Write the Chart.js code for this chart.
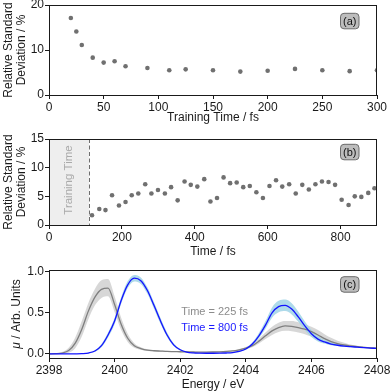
<!DOCTYPE html>
<html>
<head>
<meta charset="utf-8">
<script src="https://cdn.jsdelivr.net/npm/chart.js@4.4.1/dist/chart.umd.min.js"></script>
<style>
  html, body { margin: 0; padding: 0; background: #fff; }
  #wrap { position: relative; width: 392px; height: 392px; overflow: hidden; }
  canvas { position: absolute; left: 0; }
</style>
</head>
<body>
<div id="wrap">
  <canvas id="chartA" width="392" height="143" style="top:-15px"></canvas>
  <canvas id="chartB" width="392" height="141" style="top:120px"></canvas>
  <canvas id="chartC" width="392" height="142" style="top:250px"></canvas>
</div>
<script>
// panel (a): error vs length of training window
const timesA = [20, 25, 30, 40, 50, 60, 70, 90, 110, 125, 150, 175, 200, 225, 250, 275, 300];
const rsdA = [17.1, 14.1, 11.1, 8.3, 7.2, 7.5, 6.4, 6.0, 5.5, 5.7, 5.5, 5.2, 5.4, 5.8, 5.5, 5.3, 5.5];

// panel (b): error over the trajectory
const timesB = [118, 138, 155, 173, 192, 210, 227, 245, 264, 281, 299, 318, 335, 353, 372, 389, 407, 426, 443, 461,
  479, 497, 515, 533, 551, 569, 587, 605, 623, 640, 659, 677, 695, 713, 731, 749, 767, 785, 803, 822,
  839, 857, 876, 893];
const rsdB = [1.7, 2.8, 2.6, 5.2, 3.4, 4.0, 5.2, 5.5, 7.1, 5.5, 6.1, 5.5, 6.6, 4.3, 7.6, 7.0, 6.7, 8.0, 4.1, 4.7,
  8.3, 7.3, 7.4, 6.6, 6.8, 5.7, 4.7, 6.8, 7.8, 6.7, 7.1, 5.5, 7.0, 6.2, 7.1, 7.6, 7.5, 7.0, 4.4, 3.5,
  5.0, 4.9, 5.6, 6.4];
const trainingEnd = 110;
const xTicksB = [0, 200, 400, 600, 800];

// panel (c): spectra
const energy = [2398.0, 2398.2, 2398.4, 2398.6, 2398.8, 2399.0, 2399.2, 2399.4, 2399.6, 2399.8,
  2400.0, 2400.2, 2400.4, 2400.6, 2400.8, 2401.0, 2401.2, 2401.4, 2401.6, 2401.8,
  2402.0, 2402.2, 2402.4, 2402.6, 2402.8, 2403.0, 2403.2, 2403.4, 2403.6, 2403.8,
  2404.0, 2404.2, 2404.4, 2404.6, 2404.8, 2405.0, 2405.2, 2405.4, 2405.6, 2405.8,
  2406.0, 2406.2, 2406.4, 2406.6, 2406.8, 2407.0, 2407.2, 2407.4, 2407.6, 2407.8, 2408.0];
const mu225 = [0.000, 0.002, 0.010, 0.040, 0.130, 0.300, 0.520, 0.690, 0.785, 0.800,
  0.600, 0.360, 0.190, 0.100, 0.065, 0.045, 0.038, 0.034, 0.030, 0.028,
  0.026, 0.024, 0.023, 0.022, 0.022, 0.023, 0.025, 0.029, 0.036, 0.050,
  0.070, 0.100, 0.155, 0.220, 0.280, 0.320, 0.340, 0.335, 0.320, 0.300,
  0.270, 0.230, 0.185, 0.150, 0.125, 0.108, 0.097, 0.088, 0.080, 0.073, 0.067];
const mu225Hi = [0.002, 0.006, 0.022, 0.075, 0.200, 0.400, 0.620, 0.790, 0.895, 0.910,
  0.700, 0.440, 0.245, 0.130, 0.080, 0.055, 0.046, 0.041, 0.036, 0.033,
  0.031, 0.029, 0.028, 0.027, 0.027, 0.028, 0.030, 0.035, 0.044, 0.060,
  0.085, 0.120, 0.185, 0.260, 0.330, 0.380, 0.400, 0.400, 0.385, 0.360,
  0.330, 0.290, 0.240, 0.195, 0.160, 0.135, 0.115, 0.100, 0.090, 0.080, 0.073];
const mu225Lo = [0.000, 0.000, 0.003, 0.015, 0.070, 0.210, 0.420, 0.590, 0.680, 0.700,
  0.510, 0.290, 0.145, 0.075, 0.050, 0.036, 0.031, 0.028, 0.025, 0.023,
  0.021, 0.019, 0.018, 0.017, 0.017, 0.018, 0.020, 0.023, 0.029, 0.040,
  0.057, 0.080, 0.125, 0.180, 0.230, 0.265, 0.280, 0.275, 0.260, 0.240,
  0.210, 0.175, 0.140, 0.115, 0.100, 0.090, 0.083, 0.078, 0.072, 0.067, 0.062];
const mu800 = [0.000, 0.000, 0.000, 0.000, 0.001, 0.003, 0.010, 0.035, 0.100, 0.230,
  0.400, 0.650, 0.840, 0.920, 0.890, 0.770, 0.590, 0.400, 0.230, 0.110,
  0.050, 0.022, 0.012, 0.009, 0.008, 0.008, 0.009, 0.011, 0.016, 0.030,
  0.060, 0.120, 0.220, 0.350, 0.500, 0.575, 0.590, 0.545, 0.450, 0.340,
  0.245, 0.180, 0.145, 0.120, 0.105, 0.095, 0.088, 0.082, 0.076, 0.071, 0.066];
const mu800Hi = [0.000, 0.000, 0.001, 0.001, 0.002, 0.005, 0.015, 0.045, 0.120, 0.260,
  0.440, 0.690, 0.885, 0.960, 0.930, 0.810, 0.630, 0.435, 0.260, 0.130,
  0.060, 0.028, 0.016, 0.012, 0.011, 0.011, 0.012, 0.014, 0.020, 0.037,
  0.072, 0.140, 0.255, 0.400, 0.565, 0.645, 0.660, 0.615, 0.515, 0.395,
  0.290, 0.215, 0.170, 0.140, 0.120, 0.106, 0.097, 0.090, 0.083, 0.077, 0.071];
const mu800Lo = [0.000, 0.000, 0.000, 0.000, 0.000, 0.001, 0.006, 0.026, 0.082, 0.200,
  0.360, 0.610, 0.800, 0.880, 0.850, 0.730, 0.550, 0.365, 0.205, 0.095,
  0.040, 0.017, 0.009, 0.007, 0.006, 0.006, 0.007, 0.008, 0.012, 0.024,
  0.049, 0.100, 0.190, 0.305, 0.440, 0.505, 0.520, 0.480, 0.390, 0.290,
  0.205, 0.150, 0.125, 0.105, 0.095, 0.087, 0.081, 0.076, 0.071, 0.066, 0.062];
const yTicksC = [0, 0.5, 1.0];

const FONT = '"Liberation Sans", Arial, Helvetica, sans-serif';
const INK = '#1a1a1a';
Chart.defaults.font.family = FONT;
Chart.defaults.font.size = 12;
Chart.defaults.color = INK;

// box around the plot area
const framePlugin = {
  id: 'frame',
  afterDraw(chart) {
    const { ctx, chartArea: a } = chart;
    ctx.save();
    ctx.strokeStyle = INK;
    ctx.lineWidth = 1;
    ctx.strokeRect(a.left + 0.5, a.top + 0.5, a.right - a.left - 1, a.bottom - a.top);
    ctx.restore();
  }
};

// the grey "(a)" style tags
const panelLabel = {
  id: 'panelLabel',
  afterDraw(chart, args, opts) {
    if (!opts.text) return;
    const { ctx, chartArea: a } = chart;
    const w = 18.5, h = 15.5;
    const x = a.right - 18 - w, y = a.top + opts.dy;
    ctx.save();
    ctx.beginPath();
    ctx.roundRect(x, y, w, h, 3.5);
    ctx.fillStyle = '#bdbdbd';
    ctx.fill();
    ctx.strokeStyle = '#6b6b6b';
    ctx.lineWidth = 1;
    ctx.stroke();
    ctx.fillStyle = '#111';
    ctx.font = '11px ' + FONT;
    ctx.textAlign = 'center';
    ctx.textBaseline = 'middle';
    ctx.fillText(opts.text, x + w / 2, y + h / 2 + 0.5);
    ctx.restore();
  }
};
Chart.register(framePlugin, panelLabel);

function xAxis(min, max, step, title, height, titlePad) {
  return {
    type: 'linear', min, max,
    ticks: { stepSize: step, padding: 1, maxRotation: 0, autoSkip: false, color: INK, callback: v => String(v) },
    grid: { drawOnChartArea: false, tickLength: 4, tickColor: INK },
    border: { display: false },
    title: { display: true, text: title, color: INK, font: { size: 12 }, padding: { top: 0, bottom: titlePad } },
    afterFit(s) { s.height = height; }
  };
}

function yAxis(min, max, step, title) {
  return {
    min, max,
    ticks: { stepSize: step, padding: 1, color: INK, callback: v => String(v) },
    grid: { drawOnChartArea: false, tickLength: 4, tickColor: INK },
    border: { display: false },
    title: { display: !!title, text: title, color: INK, font: { size: 12, lineHeight: 1.12 }, padding: { top: 1.6, bottom: 0 } },
    afterFit(s) { s.width = 49; }
  };
}

const rsdTitle = ['Relative Standard', 'Deviation / %'];

new Chart(document.getElementById('chartA'), {
  type: 'scatter',
  data: {
    datasets: [{
      data: timesA.map((t, i) => ({ x: t, y: rsdA[i] })),
      pointRadius: 2.3, pointBackgroundColor: '#707070', pointBorderWidth: 0
    }]
  },
  options: {
    responsive: false, animation: false,
    layout: { padding: { top: 20, right: 15, left: 0, bottom: 0 } },
    plugins: { legend: { display: false }, tooltip: { enabled: false }, panelLabel: { text: '(a)', dy: 8.3 } },
    scales: {
      x: xAxis(0, 300, 50, 'Training Time / fs', 33, 2.8),
      y: yAxis(0, 20, 10, rsdTitle)
    }
  }
});

const trainingShade = {
  id: 'trainingShade',
  beforeDatasetsDraw(chart) {
    const { ctx, chartArea: a, scales: { x } } = chart;
    const x0 = x.getPixelForValue(0), x1 = x.getPixelForValue(trainingEnd);
    ctx.save();
    ctx.fillStyle = '#eeeeee';
    ctx.fillRect(x0, a.top, x1 - x0, a.bottom - a.top);
    ctx.setLineDash([4, 2.5]);
    ctx.strokeStyle = '#6e6e6e';
    ctx.lineWidth = 1;
    ctx.beginPath();
    ctx.moveTo(Math.round(x1) + 0.5, a.top);
    ctx.lineTo(Math.round(x1) + 0.5, a.bottom);
    ctx.stroke();
    ctx.setLineDash([]);
    ctx.translate((x0 + x1) / 2, (a.top + a.bottom) / 2 - 2);
    ctx.rotate(-Math.PI / 2);
    ctx.fillStyle = '#aaaaaa';
    ctx.font = '11.5px ' + FONT;
    ctx.textAlign = 'center';
    ctx.textBaseline = 'middle';
    ctx.fillText('Training Time', 0, 0);
    ctx.restore();
  }
};

const xB = xAxis(0, 900, 200, 'Time / fs', 36, 2.1);
xB.afterBuildTicks = s => { s.ticks = xTicksB.map(v => ({ value: v })); };

new Chart(document.getElementById('chartB'), {
  type: 'scatter',
  data: {
    datasets: [{
      data: timesB.map((t, i) => ({ x: t, y: rsdB[i] })),
      pointRadius: 2.3, pointBackgroundColor: '#707070', pointBorderWidth: 0
    }]
  },
  options: {
    responsive: false, animation: false,
    layout: { padding: { top: 19, right: 15, left: 0, bottom: 0 } },
    plugins: { legend: { display: false }, tooltip: { enabled: false }, panelLabel: { text: '(b)', dy: 5.3 } },
    scales: { x: xB, y: yAxis(0, 15, 5, rsdTitle) }
  },
  plugins: [trainingShade]
});

const spectrumText = {
  id: 'spectrumText',
  afterDatasetsDraw(chart) {
    const { ctx, chartArea: a, scales: { x, y } } = chart;
    ctx.save();
    ctx.font = '11px ' + FONT;
    ctx.textAlign = 'center';
    ctx.textBaseline = 'middle';
    ctx.fillStyle = '#8c8c8c';
    ctx.fillText('Time = 225 fs', x.getPixelForValue(2403.05), y.getPixelForValue(0.515));
    ctx.fillStyle = '#1a1aff';
    ctx.fillText('Time = 800 fs', x.getPixelForValue(2403.05), y.getPixelForValue(0.31));
    ctx.restore();

    // y title with italic mu
    ctx.save();
    ctx.translate(16.7, (a.top + a.bottom) / 2);
    ctx.rotate(-Math.PI / 2);
    ctx.fillStyle = INK;
    ctx.textBaseline = 'middle';
    ctx.textAlign = 'left';
    const muFont = 'italic 12px ' + FONT, restFont = '12px ' + FONT;
    const rest = ' / Arb. Units';
    ctx.font = muFont;
    const wMu = ctx.measureText('\u03bc').width;
    ctx.font = restFont;
    const wRest = ctx.measureText(rest).width;
    const start = -(wMu + wRest) / 2;
    ctx.font = muFont;
    ctx.fillText('\u03bc', start, 0);
    ctx.font = restFont;
    ctx.fillText(rest, start + wMu, 0);
    ctx.restore();
  }
};

const pts = arr => energy.map((e, i) => ({ x: e, y: arr[i] }));
const lineBase = { pointRadius: 0, cubicInterpolationMode: 'monotone', fill: false };

const yC = yAxis(-0.05, 1.02, 0.5, '');
yC.afterBuildTicks = s => { s.ticks = yTicksC.map(v => ({ value: v })); };
yC.ticks.callback = v => v.toFixed(1);

new Chart(document.getElementById('chartC'), {
  type: 'line',
  data: {
    datasets: [
      { ...lineBase, data: pts(mu800), borderColor: '#1414ff', borderWidth: 1.3 },
      { ...lineBase, data: pts(mu225), borderColor: '#7f7f7f', borderWidth: 1.3 },
      { ...lineBase, data: pts(mu800Hi), borderWidth: 0, borderColor: 'rgba(0,0,0,0)', fill: '+1', backgroundColor: 'rgba(160,212,230,0.85)' },
      { ...lineBase, data: pts(mu800Lo), borderWidth: 0, borderColor: 'rgba(0,0,0,0)' },
      { ...lineBase, data: pts(mu225Hi), borderWidth: 0, borderColor: 'rgba(0,0,0,0)', fill: '+1', backgroundColor: 'rgba(150,150,150,0.38)' },
      { ...lineBase, data: pts(mu225Lo), borderWidth: 0, borderColor: 'rgba(0,0,0,0)' }
    ]
  },
  options: {
    responsive: false, animation: false,
    layout: { padding: { top: 20, right: 15, left: 0, bottom: 0 } },
    plugins: { legend: { display: false }, tooltip: { enabled: false }, panelLabel: { text: '(c)', dy: 6.7 } },
    scales: { x: xAxis(2398, 2408, 2, 'Energy / eV', 34, 0), y: yC }
  },
  plugins: [spectrumText]
});
</script>
</body>
</html>
